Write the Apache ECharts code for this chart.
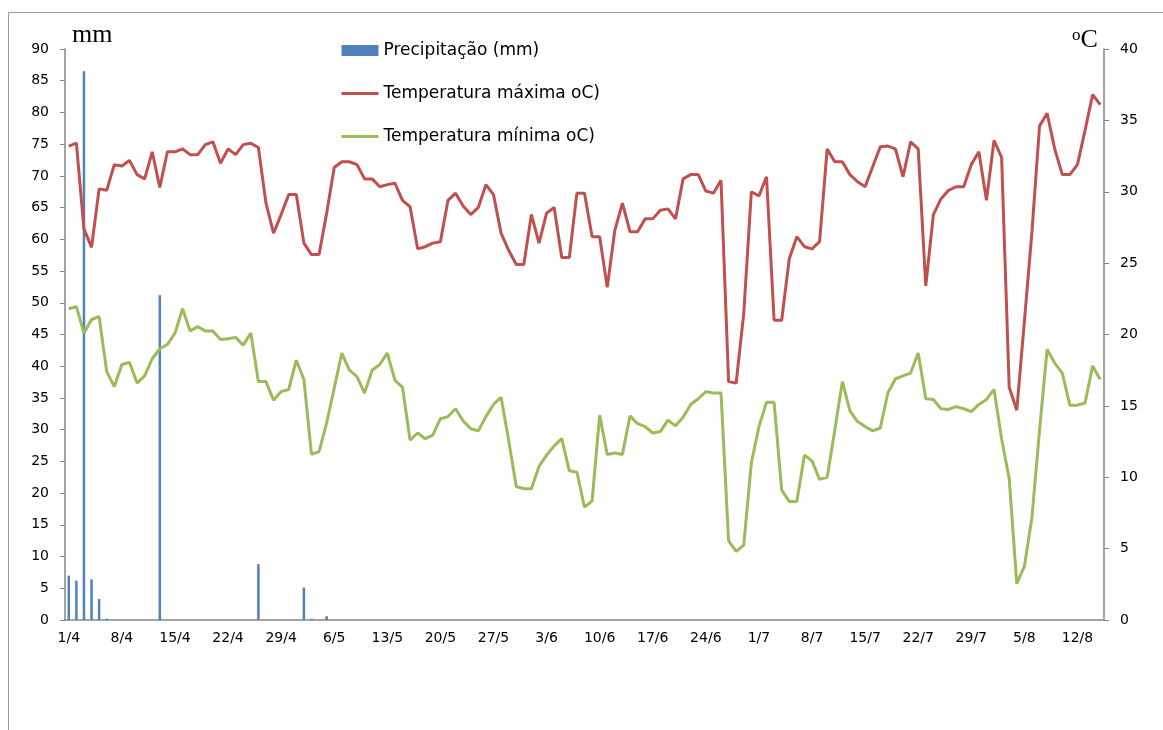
<!DOCTYPE html>
<html>
<head>
<meta charset="utf-8">
<script src="https://cdn.jsdelivr.net/npm/echarts@6/dist/echarts.min.js"></script>
<style>
  html, body { margin: 0; padding: 0; background: #fff; }
  #chart { width: 1163px; height: 730px; }
</style>
</head>
<body>
<div id="chart"></div>
<script>
// Daily series, 1 April to 15 August
const startDay = { month: 4, day: 1 };
const dayCount = 137;

// Precipitation (mm) on the days it rained; all other days are zero
const rainDays = ['1/4', '2/4', '3/4', '4/4', '5/4', '6/4', '13/4', '26/4', '2/5', '3/5', '5/5'];
const rainMm   = [7.0, 6.2, 86.5, 6.4, 3.3, 0.2, 51.2, 8.8, 5.1, 0.2, 0.6];

// Maximum temperature (°C)
const tMax = [
  33.2, 33.4, 27.4, 26.1, 30.2, 30.1, 31.9, 31.8, 32.2, 31.2,
  30.9, 32.8, 30.3, 32.8, 32.8, 33.0, 32.6, 32.6, 33.3, 33.5,
  32.0, 33.0, 32.6, 33.3, 33.4, 33.1, 29.2, 27.1, 28.4, 29.8,
  29.8, 26.4, 25.6, 25.6, 28.5, 31.7, 32.1, 32.1, 31.9, 30.9,
  30.9, 30.35, 30.5, 30.6, 29.4, 28.95, 26.0, 26.15, 26.4, 26.5,
  29.4, 29.9, 29.0, 28.4, 28.9, 30.5, 29.8, 27.1, 25.9, 24.9,
  24.9, 28.4, 26.4, 28.5, 28.9, 25.4, 25.4, 29.9, 29.9, 26.85,
  26.85, 23.3, 27.3, 29.2, 27.2, 27.2, 28.1, 28.1, 28.7, 28.8,
  28.1, 30.9, 31.2, 31.2, 30.05, 29.9, 30.8, 16.7, 16.6, 21.5,
  30.0, 29.7, 31.05, 21.0, 21.0, 25.3, 26.85, 26.15, 26.0, 26.5,
  33.0, 32.1, 32.1, 31.2, 30.7, 30.35, 31.75, 33.15, 33.2, 33.0,
  31.05, 33.5, 33.0, 23.4, 28.4, 29.5, 30.1, 30.35, 30.35, 31.9,
  32.8, 29.4, 33.6, 32.4, 16.3, 14.7, 20.9, 27.2, 34.6, 35.5,
  33.0, 31.2, 31.2, 31.9, 34.3, 36.8, 36.1
];

// Minimum temperature (°C)
const tMin = [
  21.8, 21.95, 20.1, 21.05, 21.25, 17.4, 16.35, 17.9, 18.05, 16.6,
  17.1, 18.3, 19.0, 19.3, 20.1, 21.8, 20.25, 20.55, 20.25, 20.25,
  19.65, 19.7, 19.8, 19.25, 20.1, 16.7, 16.7, 15.4, 16.0, 16.15,
  18.2, 16.85, 11.6, 11.8, 13.8, 16.25, 18.7, 17.5, 17.05, 15.9,
  17.5, 17.9, 18.7, 16.8, 16.3, 12.6, 13.1, 12.7, 12.95, 14.1,
  14.25, 14.8, 13.95, 13.4, 13.25, 14.25, 15.1, 15.6, 12.6, 9.35,
  9.2, 9.2, 10.75, 11.55, 12.2, 12.7, 10.45, 10.35, 7.9, 8.35,
  14.35, 11.6, 11.7, 11.6, 14.3, 13.75, 13.55, 13.1, 13.2, 14.0,
  13.6, 14.2, 15.1, 15.5, 16.0, 15.9, 15.9, 5.55, 4.8, 5.25,
  11.0, 13.55, 15.25, 15.25, 9.1, 8.3, 8.3, 11.55, 11.15, 9.85,
  10.0, 13.3, 16.7, 14.65, 13.9, 13.55, 13.25, 13.45, 15.9, 16.9,
  17.1, 17.3, 18.7, 15.5, 15.45, 14.8, 14.75, 14.95, 14.8, 14.6,
  15.1, 15.45, 16.15, 12.7, 9.9, 2.55, 3.75, 7.2, 13.3, 18.95,
  18.0, 17.3, 15.05, 15.05, 15.2, 17.8, 16.85
];

const seriesNames = ['Precipitação (mm)', 'Temperatura máxima oC)', 'Temperatura mínima oC)'];

// Build day labels "d/m"
const monthLengths = { 4: 30, 5: 31, 6: 30, 7: 31, 8: 31 };
const days = [];
{
  let m = startDay.month, d = startDay.day;
  for (let i = 0; i < dayCount; i++) {
    days.push(d + '/' + m);
    d++;
    if (d > monthLengths[m]) { d = 1; m++; }
  }
}
const rain = days.map(function (lab) {
  const k = rainDays.indexOf(lab);
  return k >= 0 ? rainMm[k] : 0;
});

const axisGrey = '#868686';
const labelFont = { color: '#000', fontFamily: 'DejaVu Sans', fontSize: 14 };

const chart = echarts.init(document.getElementById('chart'), null, { renderer: 'canvas' });
chart.setOption({
  animation: false,
  backgroundColor: '#fff',
  grid: { left: 65, right: 59, top: 49, bottom: 110 },
  legend: {
    orient: 'vertical',
    left: 335,
    top: 37,
    itemGap: 26,
    itemWidth: 37,
    itemHeight: 11,
    textStyle: { color: '#000', fontFamily: 'DejaVu Sans', fontSize: 17 },
    data: [
      { name: seriesNames[0], icon: 'rect' },
      { name: seriesNames[1], itemStyle: { opacity: 0 }, lineStyle: { width: 3 } },
      { name: seriesNames[2], itemStyle: { opacity: 0 }, lineStyle: { width: 3 } }
    ]
  },
  xAxis: {
    type: 'category',
    data: days,
    boundaryGap: true,
    axisLine: { lineStyle: { color: axisGrey, width: 1.5 } },
    axisTick: { interval: 6, length: 5, lineStyle: { color: axisGrey } },
    axisLabel: Object.assign({ interval: 6, margin: 11 }, labelFont),
    splitLine: { show: false }
  },
  yAxis: [
    {
      type: 'value', min: 0, max: 90, interval: 5, position: 'left',
      axisLine: { show: true, lineStyle: { color: axisGrey, width: 1.5 } },
      axisTick: { show: true, length: 5, lineStyle: { color: axisGrey } },
      axisLabel: Object.assign({ margin: 16 }, labelFont),
      splitLine: { show: false }
    },
    {
      type: 'value', min: 0, max: 40, interval: 5, position: 'right',
      axisLine: { show: true, lineStyle: { color: axisGrey, width: 1.5 } },
      axisTick: { show: true, length: 5, lineStyle: { color: axisGrey } },
      axisLabel: Object.assign({ margin: 16 }, labelFont),
      splitLine: { show: false }
    }
  ],
  series: [
    {
      name: seriesNames[0], type: 'bar', yAxisIndex: 0, data: rain,
      barWidth: 2.5, itemStyle: { color: '#4F81BD' }
    },
    {
      name: seriesNames[1], type: 'line', yAxisIndex: 1, data: tMax,
      symbol: 'none', lineStyle: { color: '#C0504D', width: 3 },
      itemStyle: { color: '#C0504D' }
    },
    {
      name: seriesNames[2], type: 'line', yAxisIndex: 1, data: tMin,
      symbol: 'none', lineStyle: { color: '#9BBB59', width: 3 },
      itemStyle: { color: '#9BBB59' }
    }
  ],
  graphic: [
    {
      type: 'rect', silent: true,
      shape: { x: 8.5, y: 12.5, width: 1200, height: 800 },
      style: { fill: 'none', stroke: '#9a9a9a', lineWidth: 1 }
    },
    {
      type: 'text', left: 72, top: 22,
      style: { text: 'mm', font: '26px "Liberation Serif"', fill: '#000' }
    },
    {
      type: 'text', left: 1072, top: 27,
      style: {
        text: '{s|o}C',
        rich: {
          s: { font: '17px "Liberation Serif"', fill: '#000', verticalAlign: 'top', padding: [0, 0, 10, 0] }
        },
        font: '26px "Liberation Serif"', fill: '#000'
      }
    }
  ]
});
</script>
</body>
</html>
